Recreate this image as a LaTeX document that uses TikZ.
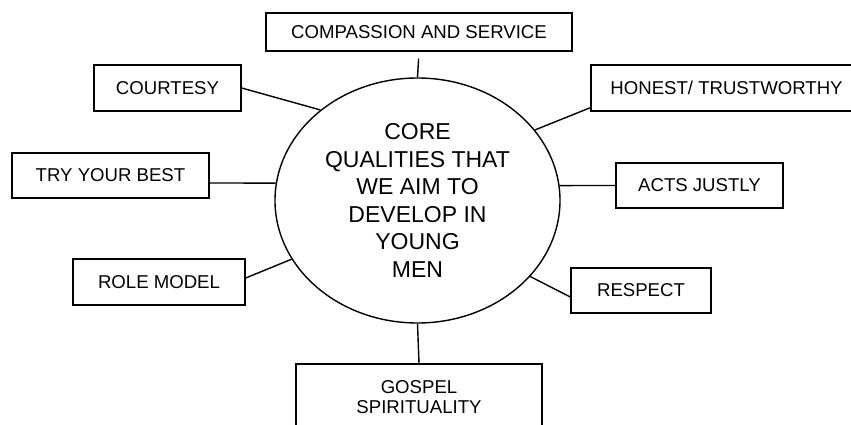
\documentclass[tikz,border=0pt]{standalone}
\usepackage{fontspec}
\setmainfont{Liberation Sans}
\usetikzlibrary{shapes.geometric}
\tikzset{
  qbox/.style={draw=black, line width=1.4pt, rectangle, inner sep=0pt, font=\fontsize{18.6}{21}\selectfont, text=black},
  link/.style={draw=black, line width=1.4pt},
}
\begin{document}
\begin{tikzpicture}[x=1pt,y=-1pt]
\clip (0,0) rectangle (851,425);
\fill[white] (0,0) rectangle (851,425);
\node[draw=black, line width=1.4pt, ellipse, minimum width=285pt, minimum height=245pt, inner sep=0pt, align=center, font=\fontsize{23}{27.6}\selectfont, text=black] (core) at (417.5,200.5) {CORE\\QUALITIES THAT\\WE AIM TO\\DEVELOP IN\\YOUNG\\MEN};
\node[qbox, minimum width=306pt, minimum height=38pt] (comp) at (419,32) {COMPASSION AND SERVICE};
\node[qbox, minimum width=147pt, minimum height=46pt] (court) at (167.5,88) {COURTESY};
\node[qbox, minimum width=197pt, minimum height=45pt] (try) at (110.5,175.5) {TRY YOUR BEST};
\node[qbox, minimum width=172pt, minimum height=46pt] (role) at (159,282) {ROLE MODEL};
\node[qbox, minimum width=271pt, minimum height=46pt] (honest) at (726.5,88) {HONEST/ TRUSTWORTHY};
\node[qbox, minimum width=167pt, minimum height=45pt] (acts) at (699.5,185.5) {ACTS JUSTLY};
\node[qbox, minimum width=140pt, minimum height=45pt] (resp) at (641,290.5) {RESPECT};
\node[qbox, minimum width=246pt, minimum height=66pt, align=center, font=\fontsize{18.6}{20}\selectfont] (gospel) at (419,397) {GOSPEL\\SPIRITUALITY};
\draw[link, shorten <=7pt] (comp.south) -- (core.north);
\draw[link] (court.east) -- (core.137.7);
\draw[link] ([yshift=-7.5pt]try.east) -- (core.173);
\draw[link] ([yshift=4pt]role.east) -- (core.205.5);
\draw[link] ([yshift=4pt]honest.south west) -- (core.31.3);
\draw[link] (acts.west) -- (core.6.25);
\draw[link] ([yshift=-6.5pt]resp.west) -- (core.-34.4);
\draw[link] (core.south) -- (gospel.north);
\end{tikzpicture}
\end{document}
